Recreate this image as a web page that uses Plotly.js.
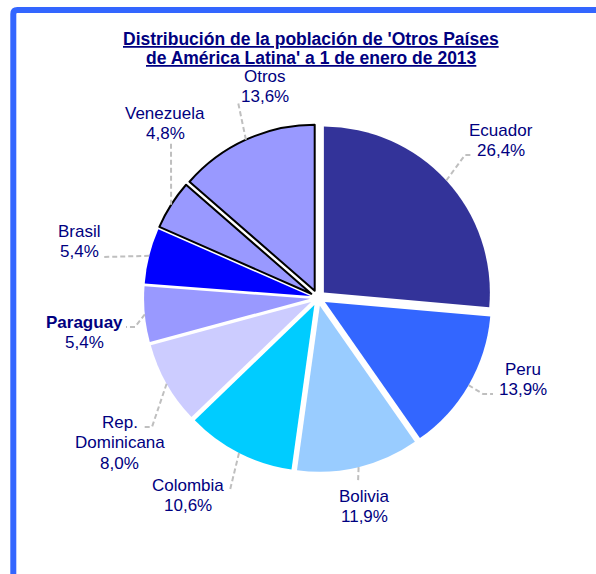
<!DOCTYPE html>
<html>
<head>
<meta charset="utf-8">
<script src="https://cdn.plot.ly/plotly-3.0.1.min.js"></script>
<style>
html,body{margin:0;padding:0;background:#fff;}
#chart{width:596px;height:574px;}
</style>
</head>
<body>
<div id="chart"></div>
<script>
// ---- data ----
const categories = ['Ecuador','Peru','Bolivia','Colombia','Rep. Dominicana','Paraguay','Brasil','Venezuela','Otros'];
const values = [26.4, 13.9, 11.9, 10.6, 8.0, 5.4, 5.4, 4.8, 13.6];
const displayNames = [['Ecuador'],['Peru'],['Bolivia'],['Colombia'],['Rep.','Dominicana'],['<b>Paraguay</b>'],['Brasil'],['Venezuela'],['Otros']];
const colors = ['#333399','#3366FF','#99CCFF','#00CCFF','#CCCCFF','#9999FF','#0000FF','#9999FF','#9999FF'];
const titleLines = ["Distribución de la población de 'Otros Países", "de América Latina' a 1 de enero de 2013"];

// ---- layout constants (pixels) ----
const W = 596, H = 574;
const CX = 318, CY = 298, R = 166, PULL = 0.048;
const LINE = 20.5;
// y of the first text line, x of the label centre
const labelPos = [[501,130],[523,369],[364,496],[188,485],[120,422],[84,322],[79,231],[165,113],[265,76]];
const leaderTail = [
  [[465,155],[473,155]],
  [[483,394],[493,394]],
  [[358,483]],
  [[230,490]],
  [[152,427],[143,427]],
  [[135,327],[126,327]],
  [[103,257]],
  [[171,143]],
  [[238,102]]
];

const px = x => x / W;
const py = y => 1 - y / H;
const half = R * (1 + PULL);

const fmt = v => v.toFixed(1).replace('.', ',') + '%';
const total = values.reduce((a,b)=>a+b,0);
const labelFont = {family:'Liberation Sans, Arial, sans-serif', size:17, color:'#000080'};

const shapes = [];
const annotations = [];
let cum = 0;
values.forEach((v,i) => {
  const mid = (cum + v/2) / total * 2 * Math.PI;
  cum += v;
  const ex = CX + (R + R*PULL) * Math.sin(mid);
  const ey = CY - (R + R*PULL) * Math.cos(mid);
  let path = 'M ' + px(ex) + ' ' + py(ey);
  leaderTail[i].forEach(p => { path += ' L ' + px(p[0]) + ' ' + py(p[1]); });
  shapes.push({type:'path', xref:'paper', yref:'paper', path:path,
    line:{color:'#BFBFBF', width:2, dash:'5px,3px'}});
  const lines = displayNames[i].concat([fmt(v)]);
  lines.forEach((t,k) => {
    annotations.push({xref:'paper', yref:'paper', x:px(labelPos[i][0]), y:py(labelPos[i][1] + k*LINE),
      xanchor:'center', yanchor:'middle', showarrow:false, align:'center', borderpad:0,
      text:t, font:labelFont});
  });
});

// frame
shapes.push({type:'path', xref:'paper', yref:'paper',
  path:'M '+px(13.3)+' '+py(574)+' L '+px(13.3)+' '+py(14)+' Q '+px(13.3)+' '+py(10)+' '+px(17.3)+' '+py(10)+' L '+px(596)+' '+py(10),
  line:{color:'#3366FF', width:6}});

// title
const titleY = [39, 58];
titleLines.forEach((t,i) => {
  annotations.push({xref:'paper', yref:'paper', x:px(311), y:py(titleY[i]),
    xanchor:'center', yanchor:'middle', showarrow:false, borderpad:0,
    text:'<b><u>' + t + '</u></b>',
    font:{family:'Liberation Sans, Arial, sans-serif', size:17.5, color:'#000080'}});
});

const trace = {
  type:'pie', labels:categories, values:values, sort:false, direction:'clockwise', rotation:0,
  pull:PULL, textinfo:'none', textposition:'none', hoverinfo:'label+percent',
  marker:{colors:colors, line:{color:['#fff','#fff','#fff','#fff','#fff','#fff','#fff','#000','#000'],
    width:[0,0,0,0,0,0,0,2,2]}},
  domain:{x:[px(CX-half), px(CX+half)], y:[py(CY+half), py(CY-half)]}
};

Plotly.newPlot('chart', [trace], {
  width:W, height:H, margin:{l:0,r:0,t:0,b:0}, showlegend:false,
  paper_bgcolor:'#fff', shapes:shapes, annotations:annotations
}, {displayModeBar:false, staticPlot:true});
</script>
</body>
</html>
